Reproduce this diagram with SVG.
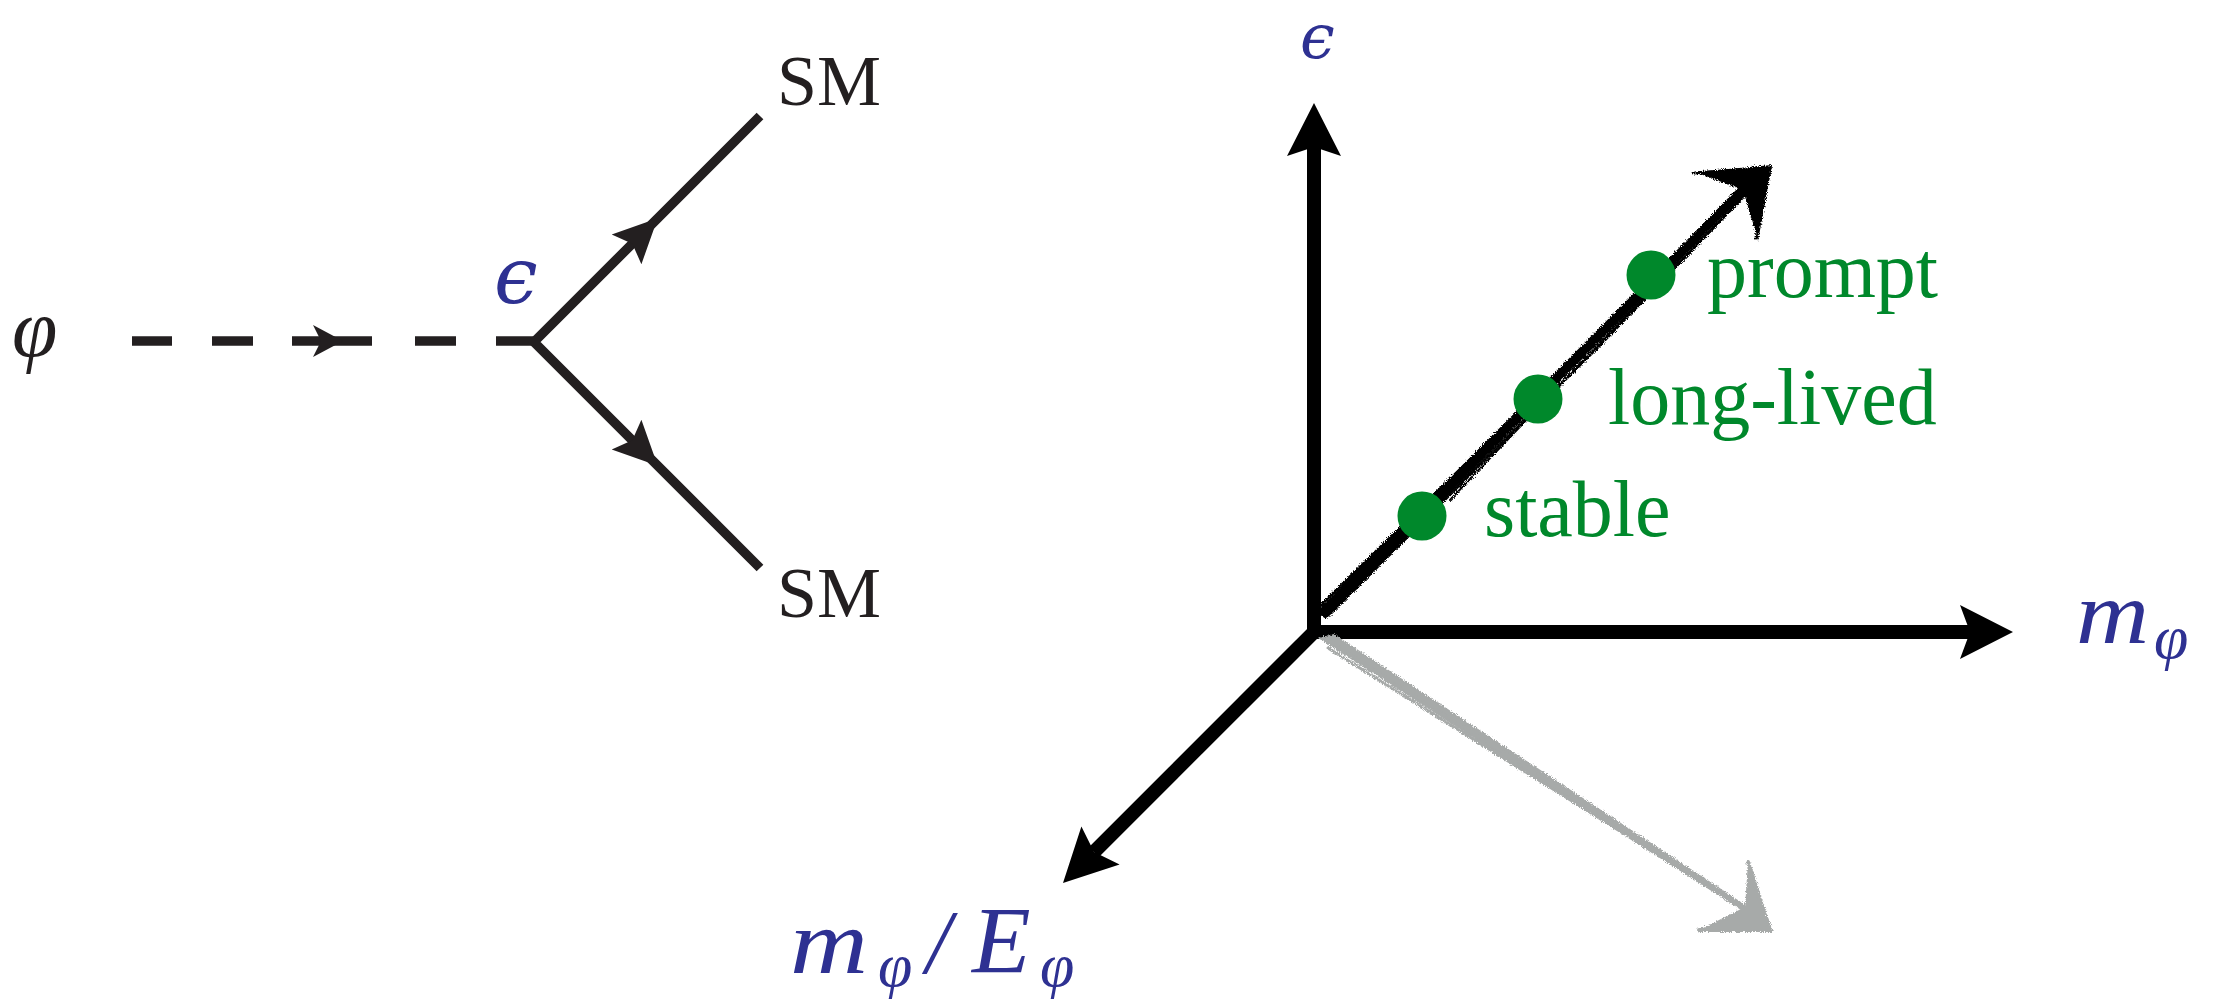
<svg xmlns="http://www.w3.org/2000/svg" width="2216" height="1003" viewBox="0 0 2216 1003">
<defs>
<style>
.ln{fill:none;stroke:#231f20;stroke-width:9.5;stroke-linecap:butt}
.ax{fill:none;stroke:#000;stroke-width:14;stroke-linejoin:miter}
.hd{fill:#231f20}
.ahd{fill:#000}
.sm{font-family:"Liberation Serif",serif;font-size:72px;fill:#231f20}
.math{font-family:"Liberation Serif","DejaVu Serif",serif;font-style:italic;fill:#2e3192}
.eps{font-family:"DejaVu Serif","Liberation Serif",serif;font-style:italic;fill:#2e3192}
.lab{font-family:"Liberation Serif",serif;font-size:80px;fill:#00882b}
.dot{fill:#00882b}
.sk{fill:none;stroke:#000;stroke-linecap:round}
.gk{fill:none;stroke:#a7aaa9;stroke-linecap:round}
</style>
<filter id="rough" x="-10%" y="-10%" width="120%" height="120%">
<feTurbulence type="fractalNoise" baseFrequency="0.9" numOctaves="2" seed="3" result="n"/>
<feDisplacementMap in="SourceGraphic" in2="n" scale="5" xChannelSelector="R" yChannelSelector="G"/>
</filter>
</defs>
<rect width="2216" height="1003" fill="#fff"/>

<g id="connectors">
<g id="feynman-lines">
<path class="ln" d="M132 341H172M212 341H253M292 341H372M415 341H456M496 341H534"/>
<path class="hd" d="M343 341L313 325L321 341L313 357Z"/>
<path class="ln" stroke-linejoin="miter" d="M760 116L534 342L760 568"/>
<path class="hd" d="M657.7 218.3L611.7 234.5L632.3 243.7L641.4 264.2Z"/>
<path class="hd" d="M657.7 465.7L611.7 449.5L632.3 440.3L641.4 419.8Z"/>
</g>
<g id="axes">
<path class="ax" d="M1314 147V632H1970"/>
<path class="ahd" d="M1314 103L1341 156L1314 147L1287 156Z"/>
<path class="ahd" d="M2013 632L1960 659L1970 632L1960 605Z"/>
<path class="ax" d="M1314 632L1094 852"/>
<path class="ahd" d="M1063 883L1081.4 826.4L1094.1 851.9L1119.6 864.6Z"/>
</g>
<g id="sketch-black" filter="url(#rough)">
<path fill="#000" d="M1316 612L1326 619L1747 192L1741 186Z"/>
<path class="sk" stroke-width="3" d="M1320 606L1560 372L1742 186"/>
<path class="sk" stroke-width="3" d="M1330 614L1600 345L1748 192"/>
<path class="sk" stroke-width="2" d="M1336 596L1520 420"/>
<path class="sk" stroke-width="2" d="M1450 500L1700 238"/>
<path fill="#000" d="M1695 172L1772 165L1758 241L1743 190Z"/>
<path class="sk" stroke-width="3" d="M1694 173L1770 168L1756 238"/>
</g>
<g id="sketch-gray" filter="url(#rough)">
<path fill="#a7aaa9" d="M1318 638L1334 634L1747 906L1741 910Z"/>
<path class="gk" stroke-width="3" d="M1328 648L1744 909"/>
<path class="gk" stroke-width="3" d="M1324 638L1740 904"/>
<path fill="#a7aaa9" d="M1748 861L1773 932L1697 931L1745 907Z"/>
<path class="gk" stroke-width="4" d="M1748 862L1770 930L1699 930"/>
</g>
</g>

<g id="node-phi"><text class="math" x="12" y="356" font-size="82" style="fill:#231f20">φ</text></g>
<g id="node-eps-vertex"><text class="eps" x="494" y="303" font-size="78">ϵ</text></g>
<g id="node-sm-top"><text class="sm" x="777" y="105">SM</text></g>
<g id="node-sm-bottom"><text class="sm" x="777" y="617">SM</text></g>

<g id="node-eps-axis"><text class="eps" x="1300" y="58" font-size="62">ϵ</text></g>
<g id="node-m-axis">
<text class="math" font-size="88" transform="translate(2076 643) scale(1.15 1)">m</text>
<text class="math" font-size="62" x="2154" y="658">φ</text>
</g>
<g id="node-mE-axis">
<text class="math" font-size="90" transform="translate(790 973) scale(1.2 1)">m</text>
<text class="math" font-size="62" x="878" y="986">φ</text>
<text class="math" font-size="90" x="926" y="973">/</text>
<text class="math" font-size="96" x="972" y="973">E</text>
<text class="math" font-size="62" x="1040" y="986">φ</text>
</g>

<g id="node-prompt"><circle class="dot" cx="1651" cy="275" r="24.5"/><text class="lab" x="1707" y="297">prompt</text></g>
<g id="node-long-lived"><circle class="dot" cx="1538" cy="399" r="24.5"/><text class="lab" x="1608" y="424">long-lived</text></g>
<g id="node-stable"><circle class="dot" cx="1422" cy="516" r="24.5"/><text class="lab" x="1484" y="536">stable</text></g>
</svg>
